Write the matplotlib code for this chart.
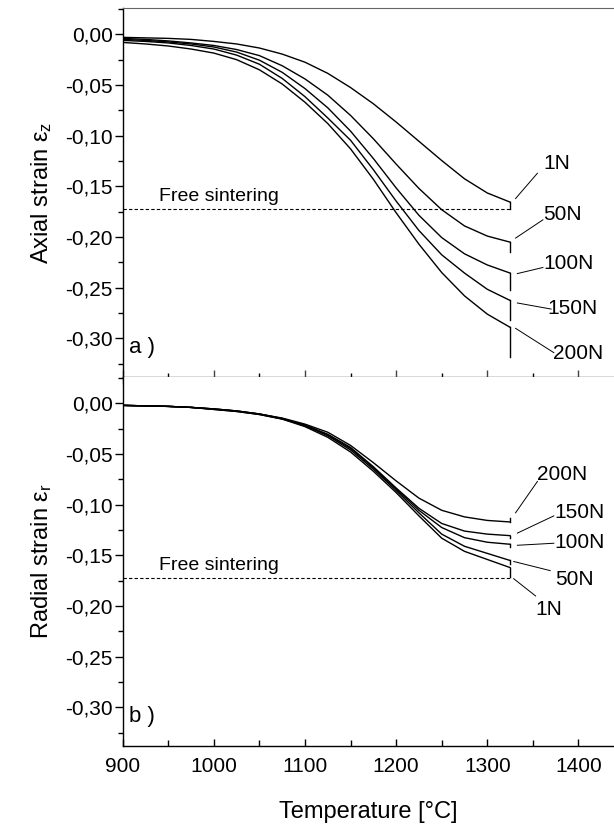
import numpy as np
import matplotlib
matplotlib.use('Agg')
import matplotlib.pyplot as plt
from matplotlib.ticker import MultipleLocator, FuncFormatter

# temperature grid (deg C)
temp = [900, 925, 950, 975, 1000, 1025, 1050, 1075, 1100, 1125, 1150,
        1175, 1200, 1225, 1250, 1275, 1300, 1325]
loads = ['1N', '50N', '100N', '150N', '200N']

# axial strain, one list per load
axial_1N = [-0.003, -0.0035, -0.004, -0.005, -0.007, -0.0095, -0.0135, -0.0195, -0.0275,
            -0.0385, -0.0525, -0.0685, -0.0865, -0.1055, -0.1245, -0.1425, -0.1565, -0.1655]
axial_50N = [-0.004, -0.005, -0.0065, -0.0085, -0.011, -0.015, -0.021, -0.031, -0.044,
             -0.060, -0.080, -0.103, -0.128, -0.152, -0.173, -0.189, -0.199, -0.205]
axial_100N = [-0.005, -0.006, -0.0075, -0.0095, -0.0125, -0.0175, -0.0255, -0.0375, -0.0535,
              -0.0725, -0.0955, -0.1225, -0.1515, -0.1785, -0.2005, -0.2165, -0.2275, -0.2355]
axial_150N = [-0.006, -0.007, -0.0085, -0.011, -0.0145, -0.0205, -0.0295, -0.0435, -0.0615,
              -0.0825, -0.1045, -0.1335, -0.1645, -0.1935, -0.2175, -0.2355, -0.2515, -0.2625]
axial_200N = [-0.008, -0.0095, -0.0115, -0.0145, -0.0185, -0.025, -0.035, -0.049, -0.067,
              -0.088, -0.113, -0.143, -0.176, -0.207, -0.235, -0.258, -0.276, -0.289]
axial_unload = [-0.172, -0.215, -0.252, -0.282, -0.318]

# radial strain
radial_1N = [-0.002, -0.0025, -0.003, -0.004, -0.006, -0.008, -0.011, -0.0155, -0.023,
             -0.0335, -0.048, -0.067, -0.088, -0.111, -0.133, -0.146, -0.154, -0.162]
radial_50N = [-0.002, -0.0025, -0.003, -0.004, -0.006, -0.008, -0.011, -0.0155, -0.022,
              -0.032, -0.046, -0.065, -0.086, -0.108, -0.129, -0.141, -0.148, -0.155]
radial_100N = [-0.002, -0.0025, -0.003, -0.004, -0.0055, -0.0075, -0.0105, -0.015, -0.0215,
               -0.031, -0.0445, -0.0635, -0.0845, -0.1055, -0.1225, -0.1325, -0.137, -0.139]
radial_150N = [-0.002, -0.0025, -0.003, -0.004, -0.0055, -0.0075, -0.0105, -0.015, -0.0215,
               -0.0305, -0.0435, -0.0625, -0.0835, -0.1035, -0.1185, -0.126, -0.129, -0.1305]
radial_200N = [-0.002, -0.0025, -0.003, -0.004, -0.0055, -0.0075, -0.0105, -0.0145, -0.0205,
               -0.0285, -0.0415, -0.0585, -0.0765, -0.0935, -0.1055, -0.112, -0.1155, -0.117]
radial_unload = [-0.171, -0.158, -0.142, -0.133, -0.113]

free_sintering = -0.172

# label placement: (text T, text strain, leader start T, start strain, leader end T, end strain)
axial_tags = [(1361, -0.127, 1331, -0.162, 1355, -0.137),
              (1361, -0.178, 1331, -0.201, 1361, -0.183),
              (1361, -0.226, 1333, -0.236, 1361, -0.230),
              (1366, -0.270, 1333, -0.265, 1370, -0.271),
              (1372, -0.315, 1331, -0.290, 1373, -0.314)]
radial_tags = [(1353, -0.203, 1329, -0.173, 1353, -0.190),
               (1374, -0.174, 1329, -0.156, 1369, -0.165),
               (1374, -0.137, 1333, -0.140, 1373, -0.138),
               (1374, -0.108, 1333, -0.128, 1373, -0.111),
               (1355, -0.070, 1331, -0.108, 1355, -0.077)]

plt.rcParams['font.family'] = ['Liberation Sans', 'DejaVu Sans']
plt.rcParams['mathtext.fontset'] = 'custom'
plt.rcParams['mathtext.rm'] = 'Liberation Sans'
plt.rcParams['mathtext.it'] = 'Liberation Sans'

fig = plt.figure(figsize=(6.14, 8.30), dpi=100)
ax1 = fig.add_axes([0.1998, 0.5458, 0.8002, 0.4446])
ax2 = fig.add_axes([0.1998, 0.1012, 0.8002, 0.4446])

comma = FuncFormatter(lambda v, p: ('%.2f' % v).replace('.', ',').replace('-0,00', '0,00'))

axial = [axial_1N, axial_50N, axial_100N, axial_150N, axial_200N]
radial = [radial_1N, radial_50N, radial_100N, radial_150N, radial_200N]

for ax, curves, unload, tags, ylab, tag in [
        (ax1, axial, axial_unload, axial_tags, 'Axial strain ε$_{z}$', 'a )'),
        (ax2, radial, radial_unload, radial_tags, 'Radial strain ε$_{r}$', 'b )')]:
    for i, c in enumerate(curves):
        ax.plot(temp, c, color='black', lw=1.0)
        ax.plot([temp[-1], temp[-1]], [c[-1], unload[i]], color='black', lw=1.0)
    ax.plot([900, temp[-1]], [free_sintering, free_sintering], color='black',
            lw=0.8, ls=(0, (3, 2)))
    ax.text(940, free_sintering + 0.004, 'Free sintering', fontsize=14, va='bottom')
    for name, (tx, ty, x0, y0, x1, y1) in zip(loads, tags):
        ax.plot([x0, x1], [y0, y1], color='black', lw=0.7)
        ax.text(tx, ty, name, fontsize=15, va='center', ha='left')
    ax.text(907, -0.309, tag, fontsize=16, va='center')

    ax.set_xlim(900, 1439)
    ax.xaxis.set_major_locator(MultipleLocator(100))
    ax.xaxis.set_minor_locator(MultipleLocator(50))
    ax.yaxis.set_major_locator(MultipleLocator(0.05))
    ax.yaxis.set_minor_locator(MultipleLocator(0.025))
    ax.yaxis.set_major_formatter(comma)
    ax.set_ylim(-0.338, 0.026)
    ax.spines['right'].set_visible(False)
    ax.tick_params(axis='y', which='major', direction='out', length=6, width=1,
                   labelsize=15, pad=1)
    ax.tick_params(axis='y', which='minor', direction='out', length=3.5, width=1)
    ax.tick_params(axis='x', which='major', direction='inout', length=10, width=1,
                   labelsize=15)
    ax.tick_params(axis='x', which='minor', direction='inout', length=6, width=1)
    ax.set_ylabel(ylab, fontsize=17, labelpad=8)
    for s in ['left', 'bottom']:
        ax.spines[s].set_linewidth(1.0)

ax1.spines['top'].set_color('#666666')
ax1.spines['bottom'].set_color('#444444')
ax1.tick_params(axis='x', labelbottom=False, colors='#444444')
ax2.spines['top'].set_visible(False)
ax2.tick_params(axis='x', which='both', direction='in', length=4, pad=8)
ax2.tick_params(axis='x', which='major', length=5)
ax2.set_xlabel('Temperature [°C]', fontsize=17, labelpad=18)

fig.savefig('out.png', dpi=100)
